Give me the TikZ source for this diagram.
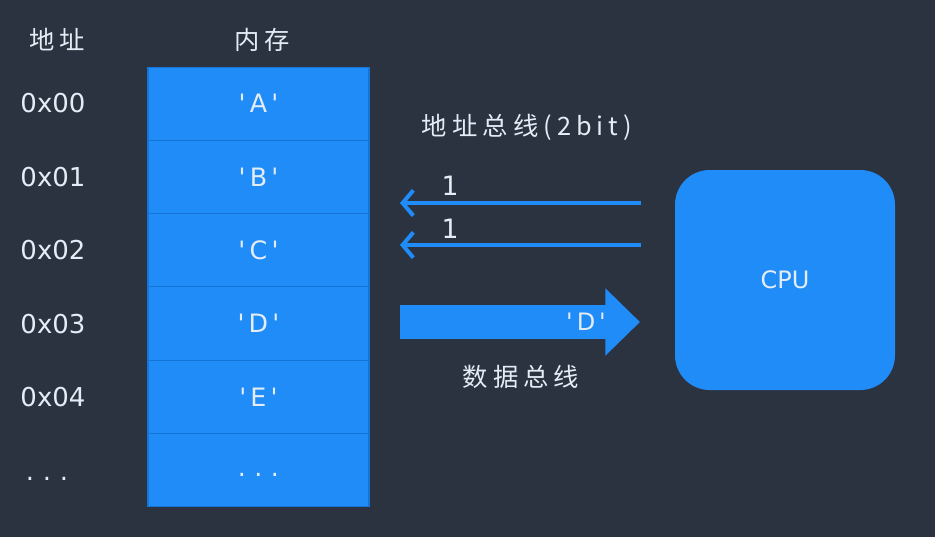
\documentclass[tikz,border=0pt]{standalone}
\usepackage{fontspec}
\setmainfont{DejaVu Sans}
\newfontfamily\cjk[LetterSpace=20]{Noto Sans CJK SC}
\usetikzlibrary{arrows.meta, positioning}
\definecolor{SlideBg}{HTML}{2B3240}
\definecolor{CellBlue}{HTML}{1F8CF8}
\definecolor{CellLine}{HTML}{1574D6}
\definecolor{SlideInk}{HTML}{E4ECF5}
\newcommand{\qch}[1]{\textquotesingle\,#1\,\textquotesingle}
\newcommand{\lowdots}{\raisebox{-5pt}[0pt][0pt]{.\,\,.\,\,.}}

\begin{document}
\begin{tikzpicture}[
    x=0.75pt, y=-0.75pt,
    font=\fontsize{18pt}{21pt}\selectfont,
    ink/.style={text=SlideInk, inner sep=0pt},
    addr/.style={ink, font=\fontsize{19.5pt}{22pt}\selectfont},
    head/.style={ink, font=\cjk\fontsize{19pt}{22pt}\selectfont},
    cell/.style={
      fill=CellBlue,
      draw=CellLine,
      line width=0.8pt,
      outer sep=0pt,
      minimum width=221*0.75pt,
      minimum height=73.3*0.75pt,
      inner sep=0pt,
      text=SlideInk,
      font=\fontsize{19pt}{22pt}\selectfont,
    },
    wire/.style={
      draw=CellBlue,
      line width=3pt,
      -{Straight Barb[length=8pt, width=19pt, line width=3pt]},
    },
    bus/.style={
      draw=CellBlue,
      line width=26pt,
      -{Triangle[length=26pt, width=49pt]},
    },
  ]
    \fill[SlideBg] (0,0) rectangle (935,537);
    \useasboundingbox (0,0) rectangle (935,537);

    % memory column
    \node[cell] (mA) at (258.5,103.7) {\qch{A}};
    \node[cell, below=0pt of mA] (mB) {\qch{B}};
    \node[cell, below=0pt of mB] (mC) {\qch{C}};
    \node[cell, below=0pt of mC] (mD) {\qch{D}};
    \node[cell, below=0pt of mD] (mE) {\qch{E}};
    \node[cell, below=0pt of mE] (mMore) {\lowdots};

    \node[head] (memHead) at (262,40) {内存};
    \node[head] (addrHead) at (57,40) {地址};

    % addresses
    \node[addr] (a0) at (53,103) {0x00};
    \node[addr] (a1) at (53,177) {0x01};
    \node[addr] (a2) at (53,250) {0x02};
    \node[addr] (a3) at (53,324) {0x03};
    \node[addr] (a4) at (53,397) {0x04};
    \node[addr] (aMore) at (47,474) {\lowdots};

    % cpu
    \node[
      fill=CellBlue,
      rounded corners=26pt,
      minimum width=220*0.75pt,
      minimum height=220*0.75pt,
      text=SlideInk,
      font=\fontsize{18pt}{21pt}\selectfont,
    ] (cpu) at (785,280) {CPU};

    % address bus
    \coordinate (ab1s) at (641,203);
    \coordinate (ab1e) at (400,203);
    \coordinate (ab2s) at (641,245);
    \coordinate (ab2e) at (400,245);
    \draw[wire] (ab1s) -- (ab1e);
    \draw[wire] (ab2s) -- (ab2e);
    \node[ink, font=\fontsize{20pt}{22pt}\selectfont] (bit1) at (450,186) {1};
    \node[ink, font=\fontsize{20pt}{22pt}\selectfont] (bit2) at (450,229) {1};
    \node[head] (abLabel) at (527,127) {地址总线(2bit)};

    % data bus
    \coordinate (dbs) at (400,322);
    \coordinate (dbe) at (640,322);
    \draw[bus] (dbs) -- (dbe);
    \node[ink] (dbVal) at (586,322) {\qch{D}};
    \node[head] (dbLabel) at (521,377) {数据总线};
  \end{tikzpicture}
\end{document}
